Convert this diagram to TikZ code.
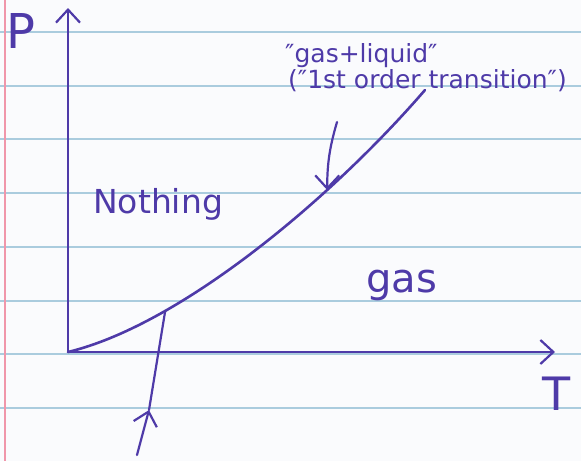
\documentclass[tikz,border=0pt]{standalone}
\usepackage{xcolor}
\usepackage{fontspec}
\setmainfont{DejaVu Sans}
\usetikzlibrary{arrows.meta}
\definecolor{inkBlue}{RGB}{78,58,168}
\definecolor{ruleBlue}{RGB}{170,204,222}
\definecolor{marginRed}{RGB}{240,150,170}
\definecolor{paperWhite}{RGB}{250,251,253}

\begin{document}
\begin{tikzpicture}[x=1pt, y=-1pt,
  ink/.style={inkBlue, line width=2.2pt, line cap=round},
  hand/.style={inkBlue, inner sep=0pt},
  >={Straight Barb[length=13pt, width=24pt]}]
\fill[paperWhite] (0,0) rectangle (581,461);
\useasboundingbox (0,0) rectangle (581,461);
% ruled paper
\foreach \y in {32,86,139,193,247,301,354,408}{
\draw[ruleBlue, line width=2.2pt] (0,\y) -- (581,\y);
}
\draw[marginRed, line width=2pt] (5,0) -- (5,461);
% axes
\coordinate (O) at (68,352);
\coordinate (Pend) at (68,8);
\coordinate (Tend) at (555,352);
\draw[ink, ->] (O) -- (Pend);
\draw[ink, ->] (O) -- (Tend);
\node[hand, font=\fontsize{48}{50}\selectfont, anchor=base west] (P) at (6,48) {P};
\node[hand, font=\fontsize{46}{48}\selectfont, anchor=base west] (T) at (542,410) {T};
% coexistence line
\draw[ink, line width=2.6pt] (O) .. controls (180,325) and (330,200) .. (425,90)
  coordinate[pos=0.27] (hit) coordinate[pos=0.7] (crit);
% labels
\node[hand, font=\fontsize{33}{35}\selectfont, anchor=base west] (nothing) at (93,213) {Nothing};
\node[hand, font=\fontsize{40}{42}\selectfont, anchor=base west] (gas) at (366,292) {gas};
\node[hand, font=\fontsize{25}{27}\selectfont, anchor=base west] (coex) at (285,62) {″gas+liquid″};
\node[hand, font=\fontsize{25}{27}\selectfont, anchor=base west] (order) at (288,88) {(″1st order transition″)};
\coordinate (coexarr) at (337,122);
\draw[ink, ->] (coexarr) to[bend right=8] (crit);
% path crossing the line
\coordinate (start) at (137,455);
\coordinate (mid) at (149,410);
\draw[ink, ->] (start) -- (mid);
\draw[ink] (mid) -- (hit);
\end{tikzpicture}
\end{document}
